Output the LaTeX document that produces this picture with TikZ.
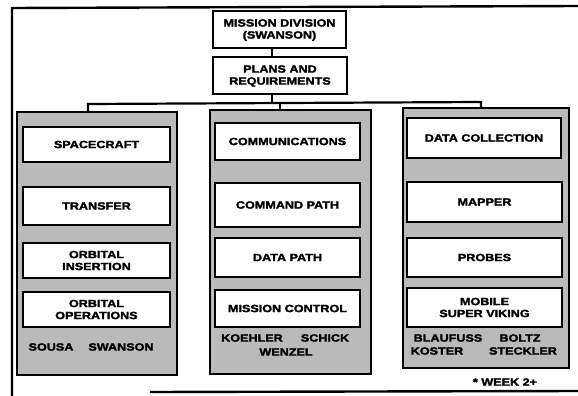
\documentclass[tikz,border=0pt]{standalone}
\usepackage{fontspec}
\setmainfont{Liberation Sans}[FakeStretch=1.2, BoldFeatures={FakeStretch=1.2, FakeBold=2.2}]
\begin{document}
\begin{tikzpicture}[x=1pt,y=-1pt,
  lbl/.style={font=\fontsize{10.5}{12}\bfseries\selectfont, align=center, inner sep=0pt},
  wbox/.style={draw=black, line width=2.2pt, fill=white},
  panel/.style={draw=black, line width=1.8pt, fill=black!27},
  wire/.style={draw=black, line width=2.2pt},
  frame/.style={draw=black, line width=2.4pt}]
\useasboundingbox (0,0) rectangle (578,396);
% frame
\draw[frame] (12,396) -- (12,8) -- (578,6);
\draw[frame] (150,392) -- (578,391);
% top boxes
\draw[wbox] (213,11) rectangle (346,48);
\node[lbl] (md) at (279.5,30) {MISSION DIVISION\\(SWANSON)};
\draw[wbox] (213,57) rectangle (347,94);
\node[lbl] (pr) at (280,76) {PLANS AND\\REQUIREMENTS};
\coordinate (mdb) at (272,48);
\coordinate (prt) at (272,57);
\coordinate (prb) at (272,94);
\coordinate (bus) at (272,103);
\draw[wire] (mdb) -- (prt);
\draw[wire] (prb) -- (bus);
\coordinate (bl) at (88,104);
\coordinate (br) at (481,102);
\coordinate (bc) at (280,103);
\coordinate (plt) at (88,112);
\coordinate (pct) at (280,110);
\coordinate (prt2) at (481,108);
\draw[wire] (plt) -- (bl) -- (br) -- (prt2);
\draw[wire] (bc) -- (pct);
% panels
\draw[panel] (17,112) rectangle (177,375);
\draw[panel] (210,110) rectangle (371,374);
\draw[panel] (403,108) rectangle (569,368);
% left column
\draw[wbox] (23,127) rectangle (170,162);
\node[lbl] (sc) at (96.5,144.5) {SPACECRAFT};
\draw[wbox] (23,187) rectangle (170,225);
\node[lbl] (tr) at (96.5,206) {TRANSFER};
\draw[wbox] (23,243) rectangle (170,278);
\node[lbl] (oi) at (96.5,260.5) {ORBITAL\\INSERTION};
\draw[wbox] (23,292) rectangle (170,327);
\node[lbl] (oo) at (96.5,309.5) {ORBITAL\\OPERATIONS};
\node[lbl] (n1) at (51,347) {SOUSA};
\node[lbl] (n2) at (121,347) {SWANSON};
% center column
\draw[wbox] (215,123) rectangle (360,160);
\node[lbl] (cm) at (287.5,141.5) {COMMUNICATIONS};
\draw[wbox] (215,183) rectangle (360,227);
\node[lbl] (cp) at (287.5,205) {COMMAND PATH};
\draw[wbox] (215,238) rectangle (360,277);
\node[lbl] (dp) at (287.5,257.5) {DATA PATH};
\draw[wbox] (215,290) rectangle (360,327);
\node[lbl] (mc) at (287.5,308.5) {MISSION CONTROL};
\node[lbl] (n3) at (252,338) {KOEHLER};
\node[lbl] (n4) at (325,338) {SCHICK};
\node[lbl] (n5) at (286,352) {WENZEL};
% right column
\draw[wbox] (407,118) rectangle (561,158);
\node[lbl] (dc) at (484,138) {DATA COLLECTION};
\draw[wbox] (407,182) rectangle (562,222);
\node[lbl] (mp) at (484.5,202) {MAPPER};
\draw[wbox] (407,238) rectangle (562,277);
\node[lbl] (pb) at (484.5,257.5) {PROBES};
\draw[wbox] (407,288) rectangle (562,327);
\node[lbl] (sv) at (484.5,307.5) {MOBILE\\SUPER VIKING};
\node[lbl] (n6) at (448,338) {BLAUFUSS};
\node[lbl] (n7) at (520,338) {BOLTZ};
\node[lbl] (n8) at (437,351) {KOSTER};
\node[lbl] (n9) at (523,351) {STECKLER};
\node[lbl] (wk) at (505,382) {* WEEK 2+};
\end{tikzpicture}
\end{document}
